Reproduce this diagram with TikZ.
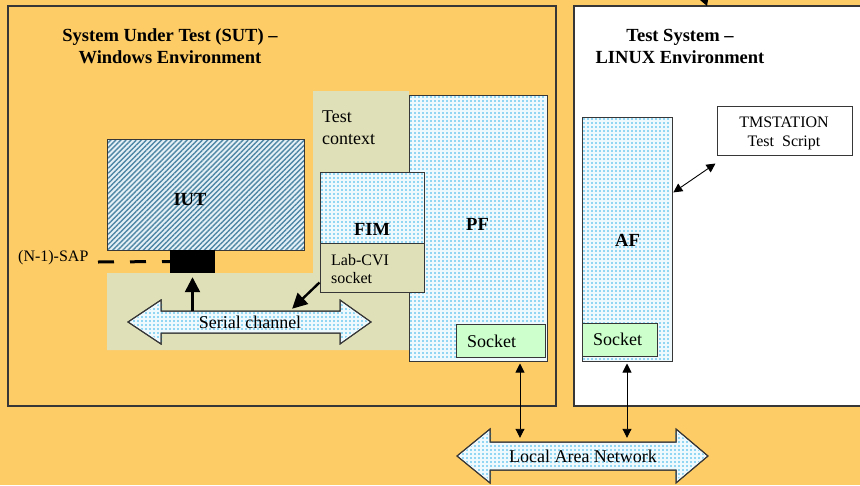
\documentclass[tikz,border=0pt]{standalone}
\usepackage{fontspec}
\setmainfont{Liberation Serif}
\usetikzlibrary{arrows.meta,patterns.meta,fit,calc}
\definecolor{bgor}{RGB}{254,204,102}
\definecolor{beige}{RGB}{224,224,184}
\definecolor{sockg}{RGB}{204,255,204}
\definecolor{dotc}{RGB}{50,180,232}
\definecolor{dotbg}{RGB}{238,249,254}
\definecolor{hatchc}{RGB}{80,135,165}
\definecolor{hatchbg}{RGB}{228,240,246}
\definecolor{edge}{RGB}{55,55,55}
\newcommand{\mydotgrid}[4]{%
  \pgfmathtruncatemacro\xsecond{#1+4}%
  \pgfmathtruncatemacro\ysecond{#2+4}%
  \foreach \xx in {#1,\xsecond,...,#3}{%
    \foreach \yy in {#2,\ysecond,...,#4}{%
      \fill[dotc] (\xx,\yy) circle (0.95pt);
    }%
  }%
}
\tikzset{
  envbox/.style={draw=edge, line width=1.2pt, inner sep=0pt},
  dotbox/.style={draw=edge, line width=1pt, inner sep=0pt, fill=dotbg},
  hatchbox/.style={draw=edge, line width=1pt, inner sep=0pt, preaction={fill=hatchbg},
     pattern={Lines[angle=45, distance=3.6pt, line width=1.4pt]}, pattern color=hatchc},
  sockbox/.style={draw=edge, line width=1pt, inner sep=0pt, fill=sockg},
  plainbox/.style={draw=edge, line width=1pt, inner sep=0pt, fill=white},
  beigebox/.style={draw=edge, line width=1pt, inner sep=0pt, fill=beige},
  txt/.style={inner sep=0pt, font=\fontsize{18}{22}\selectfont},
  smalltxt/.style={inner sep=0pt, font=\fontsize{16}{18}\selectfont},
  boldtxt/.style={inner sep=0pt, font=\fontsize{18.5}{22}\selectfont\bfseries},
  bigarrow/.style={line width=2.4pt, -{Triangle[length=15pt, width=15pt]}},
  smallarrow/.style={line width=0.9pt, {Triangle[length=9pt, width=9pt]}-{Triangle[length=9pt, width=9pt]}},
  fatarrow/.style={draw=edge, line width=1pt, fill=dotbg},
}
\begin{document}
\begin{tikzpicture}[x=1pt, y=-1pt]
\useasboundingbox (0,0) rectangle (860,485);
\fill[bgor] (0,0) rectangle (860,485);

% environments
\node[envbox, fill=bgor, fit={(8,6) (556,406)}] (sut) {};
\node[envbox, fill=white, fit={(574,6) (880,406)}] (ts) {};
\fill (700,0) -- (708,0) -- (707,6) -- cycle;

\node[boldtxt, align=center] (suttitle) at (170,46) {System Under Test (SUT) –\\Windows Environment};
\node[boldtxt, align=center] (tstitle) at (680,46) {Test System –\\LINUX Environment};

% test context region
\fill[beige] (313,91) -- (409,91) -- (409,350) -- (107,350) -- (107,273) -- (313,273) -- cycle;
\node[txt, anchor=north west, align=left] (tc) at (322,111) {Test\\context};

% IUT and SAP
\node[hatchbox, fit={(107,139) (304,250)}] (iut) {};
\node[boldtxt] (iutlbl) at (190,200) {IUT};
\node[fill=black, inner sep=0pt, fit={(170,250) (215,273)}] (sap) {};
\node[smalltxt, anchor=base west] (saplbl) at (18,261) {(N-1)-SAP};
\coordinate (sapend) at (98,262);
\draw[line width=3pt, dash pattern=on 16pt off 16pt] (sapend) -- (sap.west);

% PF
\node[dotbox, fit={(409,95) (547,361)}] (pf) {};
\begin{scope}
  \clip (410,96) rectangle (546,360);
  \mydotgrid{411}{97}{546}{360}
\end{scope}
\node[boldtxt] (pflbl) at (477.5,224) {PF};
\node[sockbox, fit={(456,324) (545,357)}] (pfsock) {};
\node[txt, anchor=base west] (pfsocklbl) at (467,347) {Socket};

% FIM
\node[dotbox, fit={(320,172) (424,243)}] (fim) {};
\begin{scope}
  \clip (321,173) rectangle (423,242);
  \mydotgrid{322}{174}{423}{242}
\end{scope}
\node[boldtxt] (fimlbl) at (372,229) {FIM};
\node[beigebox, fit={(320,243) (424,292)}] (lab) {};
\node[smalltxt, anchor=north west, align=left] (lablbl) at (331,254) {Lab-CVI\\socket};

% serial channel
\filldraw[fatarrow] (128,322) -- (161,300) -- (161,311) -- (340,311) -- (340,300) -- (371,322)
   -- (340,344) -- (340,333) -- (161,333) -- (161,344) -- cycle;
\begin{scope}
  \clip (130,322) -- (162,302) -- (162,312) -- (339,312) -- (339,302) -- (369,322)
   -- (339,342) -- (339,332) -- (162,332) -- (162,342) -- cycle;
  \mydotgrid{130}{301}{370}{344}
\end{scope}
\draw[edge, line width=1pt] (128,322) -- (161,300) -- (161,311) -- (340,311) -- (340,300) -- (371,322)
   -- (340,344) -- (340,333) -- (161,333) -- (161,344) -- cycle;
\node[txt, minimum width=179pt, minimum height=22pt] (serial) at (250,322) {Serial channel};

\draw[bigarrow, shorten >=4pt] (serial.north -| sap) -- (sap.south);
\draw[bigarrow, shorten >=3pt] ($(lab.south west)!0.2!(lab.north west)$) -- ([xshift=40pt]serial.north);

% AF
\node[dotbox, fit={(582,117) (672,361)}] (af) {};
\begin{scope}
  \clip (583,118) rectangle (671,360);
  \mydotgrid{584}{119}{671}{360}
\end{scope}
\node[boldtxt] (aflbl) at (627.5,240) {AF};
\node[sockbox, fit={(582,323) (657,356)}] (afsock) {};
\node[txt, anchor=base west] (afsocklbl) at (593,345.5) {Socket};

% TMSTATION
\node[plainbox, fit={(717,106) (852,155)}] (tm) {};
\node[smalltxt, align=center, font=\fontsize{16}{19}\selectfont] (tmlbl) at (784,133) {TMSTATION\\Test~ Script};
\draw[smallarrow, shorten <=1pt] ([yshift=46pt]af.east) -- ([xshift=-1pt, yshift=-8pt]tm.south west);

% LAN
\filldraw[fatarrow] (457,456) -- (490,429) -- (490,442) -- (676,442) -- (676,429) -- (708,456)
   -- (676,483) -- (676,470) -- (490,470) -- (490,483) -- cycle;
\begin{scope}
  \clip (459,456) -- (491,431) -- (491,443) -- (675,443) -- (675,431) -- (706,456)
   -- (675,481) -- (675,469) -- (491,469) -- (491,481) -- cycle;
  \mydotgrid{459}{430}{708}{484}
\end{scope}
\draw[edge, line width=1pt] (457,456) -- (490,429) -- (490,442) -- (676,442) -- (676,429) -- (708,456)
   -- (676,483) -- (676,470) -- (490,470) -- (490,483) -- cycle;
\node[txt, minimum width=186pt, minimum height=28pt] (lan) at (583,456) {Local Area Network};

\coordinate (pfx) at (520,0);
\draw[smallarrow, shorten <=6pt, shorten >=4pt] (pfsock.south -| pfx) -- (lan.north -| pfx);
\draw[smallarrow, shorten <=2pt, shorten >=4pt] (af.south) -- (lan.north -| af.south);
\end{tikzpicture}
\end{document}
